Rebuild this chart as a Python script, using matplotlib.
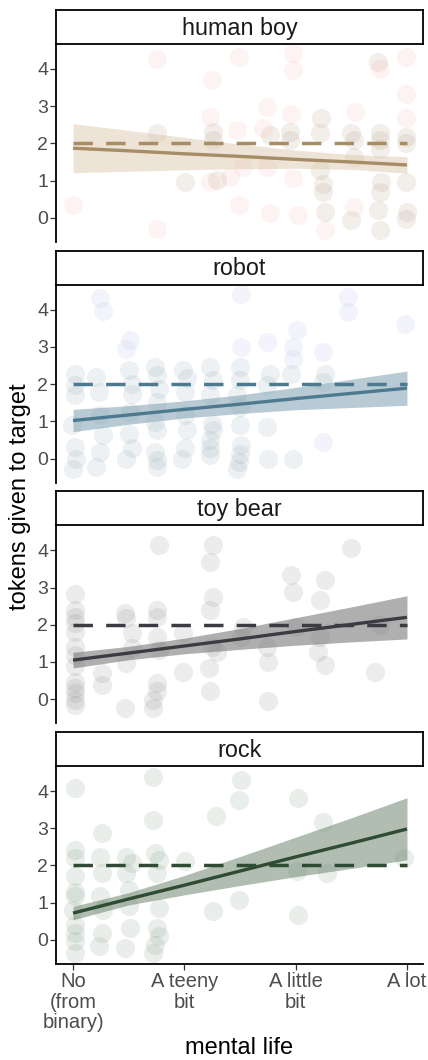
import matplotlib
matplotlib.use("Agg")
import matplotlib.pyplot as plt

plt.rcParams['font.family'] = ['Liberation Sans', 'DejaVu Sans']

# ---------------- data ----------------
panels = ["human boy", "robot", "toy bear", "rock"]
x_tick_vals = [0, 1, 2, 3]
x_tick_labels = ["No\n(from\nbinary)", "A teeny\nbit", "A little\nbit", "A lot"]
y_tick_vals = [0, 1, 2, 3, 4]
chance_level = 2

# jittered observations (mental life, tokens), group 0 / 1 = point colour
boy_x = [0.00, 0.75, 0.75, 0.75, 1.01, 1.25, 1.23, 1.26, 1.26, 1.29, 1.23, 1.49, 1.47, 1.49, 1.53,
         1.41, 1.74, 1.71, 1.77, 1.74, 1.77, 1.98, 1.98, 1.96, 1.95, 1.95, 1.98, 2.02, 2.23, 2.22,
         2.22, 2.25, 2.25, 2.26, 2.26, 2.53, 2.50, 2.52, 2.52, 2.52, 2.50, 2.74, 2.76, 2.76, 2.76,
         2.76, 2.77, 2.76, 2.74, 2.76, 2.99, 2.99, 2.99, 2.99, 2.99, 2.99, 3.00, 2.99]
boy_y = [0.34, 4.28, -0.29, 2.27, 0.97, 3.70, 2.72, 2.31, 2.09, 1.01, 0.97, 4.33, 2.36, 0.34, 1.37,
         1.10, 2.98, 2.40, 2.22, 1.37, 0.12, 4.42, 3.97, 2.80, 2.31, 2.09, 1.06, 0.07, 2.67, 2.27,
         1.28, 0.92, 0.70, 0.16, -0.33, 2.85, 2.27, 2.09, 1.64, 0.30, -0.06, 4.19, 4.01, 2.27, 2.09,
         1.86, 0.97, 0.70, 0.21, -0.33, 4.33, 3.34, 2.67, 2.18, 2.00, 0.97, 0.16, -0.02]
boy_g = [1, 1, 1, 0, 0, 1, 1, 0, 0, 0, 1, 1, 1, 1, 1,
         1, 1, 1, 0, 1, 1, 1, 1, 1, 0, 0, 1, 1, 0, 0,
         0, 0, 0, 0, 1, 1, 0, 0, 0, 1, 0, 0, 1, 0, 0,
         0, 0, 0, 0, 0, 1, 1, 1, 0, 0, 0, 0, 0]

robot_x = [0.02, 0.02, 0.02, -0.01, 0.02, 0.03, 0.00, 0.24, 0.27, 0.21, 0.23, 0.24, 0.27, 0.24, 0.21,
           0.51, 0.48, 0.50, 0.53, 0.53, 0.51, 0.50, 0.53, 0.48, 0.74, 0.75, 0.77, 0.75, 0.74, 0.75,
           0.74, 0.75, 0.75, 0.99, 1.02, 1.01, 1.01, 1.02, 1.01, 0.98, 1.23, 1.26, 1.23, 1.25, 1.26,
           1.23, 1.23, 1.23, 1.51, 1.51, 1.50, 1.50, 1.47, 1.50, 1.50, 1.51, 1.50, 1.49, 1.47, 1.74,
           1.77, 1.74, 1.74, 1.75, 2.01, 1.98, 1.98, 1.96, 1.98, 2.25, 2.26, 2.25, 2.25, 2.47, 2.47,
           2.98]
robot_y = [2.28, 1.97, 1.70, 0.89, 0.31, 0.00, -0.27, 4.31, 3.96, 2.19, 1.79, 1.16, 0.63, 0.18, -0.22,
           3.18, 2.95, 2.37, 2.01, 1.74, 1.25, 0.67, 0.27, 0.00, 2.46, 2.24, 1.88, 1.52, 0.98, 0.76,
           0.18, -0.04, -0.22, 2.37, 2.15, 1.79, 1.16, 0.76, 0.27, 0.00, 2.46, 2.10, 1.70, 0.94, 0.76,
           0.49, 0.27, 0.09, 4.43, 3.00, 2.46, 2.10, 1.70, 1.39, 0.89, 0.36, 0.13, -0.09, -0.27, 3.13,
           2.28, 1.97, 0.85, 0.00, 3.45, 3.00, 2.68, 2.28, 0.00, 2.86, 2.28, 2.06, 0.45, 4.34, 3.94,
           3.62]
robot_g = [0, 0, 0, 0, 0, 0, 0, 1, 1, 0, 0, 0, 0, 0, 0,
           1, 1, 0, 0, 0, 0, 0, 0, 0, 0, 0, 0, 0, 0, 0,
           0, 0, 0, 0, 0, 0, 0, 0, 0, 0, 0, 0, 0, 0, 0,
           0, 0, 0, 1, 1, 0, 0, 0, 0, 0, 0, 0, 0, 0, 1,
           0, 0, 0, 0, 1, 1, 1, 0, 0, 1, 0, 0, 1, 1, 1,
           1]

bear_x = [0.02, 0.02, 0.02, 0.02, 0.02, 0.02, 0.02, 0.02, 0.02, 0.02, 0.02, 0.02, 0.02, 0.26, 0.26,
          0.47, 0.48, 0.53, 0.53, 0.48, 0.47, 0.77, 0.75, 0.75, 0.75, 0.77, 0.75, 0.75, 0.72, 0.72,
          0.99, 0.99, 1.26, 1.23, 1.26, 1.23, 1.25, 1.29, 1.22, 1.23, 1.53, 1.51, 1.74, 1.75, 1.75,
          1.96, 1.98, 2.00, 2.22, 2.26, 2.22, 2.20, 2.26, 2.50, 2.71, 2.76]
bear_y = [2.84, 2.40, 2.22, 2.04, 1.81, 1.41, 1.19, 0.88, 0.47, 0.29, 0.16, -0.02, -0.15, 0.70, 0.38,
          2.31, 2.17, 1.77, 1.37, 0.97, -0.24, 4.14, 2.40, 2.22, 1.68, 1.32, 0.43, 0.21, -0.02, -0.24,
          1.77, 0.74, 4.14, 3.69, 2.75, 2.40, 1.41, 1.28, 0.83, 0.21, 1.95, 1.68, 1.41, 1.01, -0.06,
          3.33, 2.89, 1.95, 2.66, 3.20, 1.68, 1.28, 0.92, 4.05, 0.74, 1.99]
bear_g = [0] * len(bear_x)

rock_x = [0.02, 0.02, 0.02, 0.02, 0.02, 0.02, 0.00, 0.02, 0.02, 0.02, 0.02, 0.26, 0.24, 0.26, 0.24,
          0.27, 0.26, 0.23, 0.48, 0.53, 0.48, 0.50, 0.50, 0.51, 0.47, 0.72, 0.72, 0.74, 0.77, 0.75,
          0.77, 0.75, 0.77, 0.74, 0.72, 1.01, 1.26, 1.28, 1.49, 1.51, 1.49, 2.02, 2.01, 2.02, 2.25,
          2.28, 2.97]
rock_y = [4.08, 2.42, 2.20, 1.71, 1.30, 1.17, 0.81, 0.41, 0.19, -0.04, -0.35, 2.87, 2.24, 1.80, 1.17,
          0.81, 0.19, -0.17, 2.24, 2.06, 1.80, 1.35, 0.90, 0.32, -0.21, 4.39, 3.23, 2.33, 2.15, 1.80,
          0.86, 0.32, 0.10, -0.13, -0.35, 2.11, 0.77, 3.32, 3.76, 4.30, 1.08, 3.81, 1.84, 0.68, 3.18,
          1.80, 2.20]
rock_g = [0] * len(rock_x)

# fitted regression line and 95% band, read at these mental-life values
fit_grid = [0, 0.5, 1, 1.5, 2, 2.5, 3]
boy_fit = [1.87, 1.80, 1.72, 1.65, 1.57, 1.50, 1.42]
boy_lo = [1.21, 1.25, 1.29, 1.32, 1.33, 1.30, 1.20]
boy_hi = [2.53, 2.35, 2.16, 1.98, 1.82, 1.70, 1.64]
robot_fit = [1.02, 1.17, 1.32, 1.46, 1.61, 1.75, 1.89]
robot_lo = [0.72, 0.92, 1.09, 1.21, 1.31, 1.37, 1.43]
robot_hi = [1.32, 1.42, 1.55, 1.71, 1.91, 2.13, 2.35]
bear_fit = [1.05, 1.24, 1.43, 1.62, 1.82, 2.01, 2.20]
bear_lo = [0.84, 1.06, 1.22, 1.34, 1.45, 1.54, 1.62]
bear_hi = [1.26, 1.42, 1.64, 1.90, 2.19, 2.48, 2.78]
rock_fit = [0.72, 1.10, 1.47, 1.85, 2.23, 2.60, 2.98]
rock_lo = [0.54, 0.94, 1.21, 1.46, 1.70, 1.92, 2.15]
rock_hi = [0.90, 1.27, 1.73, 2.24, 2.76, 3.28, 3.82]

# ---------------- styles ----------------
line_cols = ["#A68D66", "#4E7A91", "#3E3A42", "#2F4B33"]
band_cols = ["#D9C3A5", "#7FA0B1", "#7A7A7A", "#6F8770"]
band_alpha = [0.45, 0.55, 0.6, 0.55]
pt_cols = [("#A89272", "#F26A5E"), ("#5F8296", "#7F8ED8"), ("#7A7A7A", "#7A7A7A"),
           ("#5C7C60", "#5C7C60")]
pt_alpha = [(0.15, 0.08), (0.11, 0.09), (0.14, 0.14), (0.13, 0.13)]

obs = [(boy_x, boy_y, boy_g), (robot_x, robot_y, robot_g), (bear_x, bear_y, bear_g),
       (rock_x, rock_y, rock_g)]
fits = [(boy_fit, boy_lo, boy_hi), (robot_fit, robot_lo, robot_hi), (bear_fit, bear_lo, bear_hi),
        (rock_fit, rock_lo, rock_hi)]

W, H = 428, 1060
fig = plt.figure(figsize=(W / 100, H / 100), dpi=100)

left, right = 56, 423
step = 240.7
tick_col = "#4D4D4D"

for i, name in enumerate(panels):
    strip_top = 10 + i * step
    ax_top = 44 + i * step
    ax_bot = 242 + i * step
    ax = fig.add_axes([left / W, 1 - ax_bot / H, (right - left) / W, (ax_bot - ax_top) / H])
    sax = fig.add_axes([left / W, 1 - ax_top / H, (right - left) / W, (ax_top - strip_top) / H])

    xs, ys, gs = obs[i]
    for g in (0, 1):
        px = [x for x, gg in zip(xs, gs) if gg == g]
        py = [y for y, gg in zip(ys, gs) if gg == g]
        if px:
            ax.scatter(px, py, s=190, color=pt_cols[i][g], alpha=pt_alpha[i][g], linewidths=0,
                       zorder=1)
    f, lo, hi = fits[i]
    ax.fill_between(fit_grid, lo, hi, color=band_cols[i], alpha=band_alpha[i], linewidth=0,
                    zorder=2)
    ax.plot(fit_grid, f, color=line_cols[i], lw=2.4, zorder=3, solid_capstyle='butt')
    ax.plot([fit_grid[0], fit_grid[-1]], [chance_level, chance_level], color=line_cols[i], lw=2.5,
            dashes=(5.6, 3.8), zorder=4)

    ax.set_xlim(-0.153, 3.144)
    ax.set_ylim(-0.65, 4.67)
    ax.set_yticks(y_tick_vals)
    ax.tick_params(axis='y', labelsize=14, labelcolor=tick_col, color="#333333", length=4,
                   width=0.9, pad=1.5)
    for s in ("top", "right"):
        ax.spines[s].set_visible(False)
    ax.spines["left"].set_linewidth(1.3)
    if i < len(panels) - 1:
        ax.spines["bottom"].set_visible(False)
        ax.set_xticks([])
    else:
        ax.spines["bottom"].set_linewidth(1.3)
        ax.set_xticks(x_tick_vals)
        ax.set_xticklabels(x_tick_labels, linespacing=1.08)
        ax.tick_params(axis='x', labelsize=14.5, labelcolor=tick_col, color="#333333",
                       length=4, width=0.9, pad=2)
        ax.set_xlabel("mental life", fontsize=17, labelpad=4)
    ax.set_facecolor("none")

    sax.set_xticks([])
    sax.set_yticks([])
    sax.set_xlim(0, 1)
    sax.set_ylim(0, 1)
    for s in sax.spines.values():
        s.set_linewidth(1.3)
    sax.text(0.5, 0.47, name, ha='center', va='center', fontsize=16.8, color="#1A1A1A")

fig.text(20 / W, 1 - 497 / H, "tokens given to target", rotation=90, ha='center', va='center',
         fontsize=17)

fig.savefig("out.png", dpi=100)
